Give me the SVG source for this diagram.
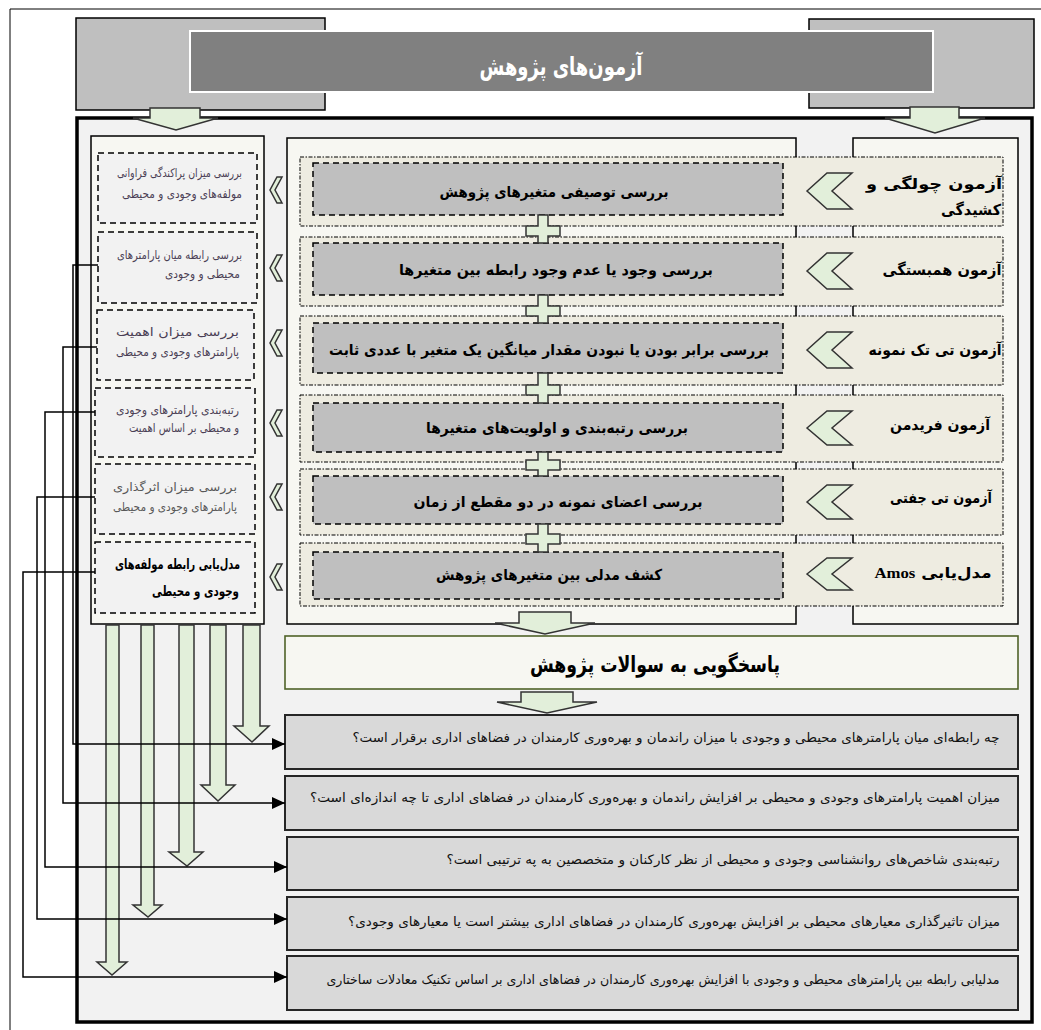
<svg xmlns="http://www.w3.org/2000/svg" width="1041" height="1030" viewBox="0 0 1041 1030">
<defs>
<style>
.hdr{fill:#BFBFBF;stroke:#000;stroke-width:1.5}
.ttl{fill:#808080;stroke:#fff;stroke-width:2}
.cont{fill:#F2F2F2;stroke:#000;stroke-width:3.5}
.col{fill:#F7F7F2;stroke:#000;stroke-width:1.5}
.dbox{fill:#F2F2F2;stroke:#000;stroke-width:1.5;stroke-dasharray:6 4}
.row{fill:#EEECE1;stroke:#000;stroke-width:1;stroke-dasharray:4 1.5 1.5 1.5}
.inner{fill:#BFBFBF;stroke:#000;stroke-width:1.5;stroke-dasharray:6 4}
.ga{fill:#E2EFDA;stroke:#333;stroke-width:1.5}
.q{fill:#D9D9D9;stroke:#262626;stroke-width:2}
.ans{fill:#F7F7F2;stroke:#4F6228;stroke-width:1.6}
.conn{fill:none;stroke:#000;stroke-width:1.5}
text{font-family:"DejaVu Sans",sans-serif;direction:rtl;text-anchor:middle}
.tb{font-weight:bold;font-size:15px;fill:#000}
.ts{font-size:12px;fill:#4B3F55}
.tq{font-size:13px;fill:#111}
</style>
<marker id="ah" markerUnits="userSpaceOnUse" markerWidth="13" markerHeight="12" refX="13" refY="6" orient="auto">
<path d="M0,0 L13,6 L0,12 z" fill="#000"/>
</marker>
</defs>
<rect width="1041" height="1030" fill="#fff"/>
<g id="page">
<line x1="10" y1="9" x2="1041" y2="9" stroke="#000" stroke-width="1"/>
<line x1="10" y1="9" x2="10" y2="1030" stroke="#000" stroke-width="1"/>
</g>
<g id="header">
<rect class="hdr" x="76" y="18" width="249" height="92"/>
<rect class="hdr" x="809" y="19" width="225" height="89"/>
<rect class="ttl" x="190" y="31" width="743" height="61"/>
<text x="561" y="75" font-size="25" font-weight="bold" fill="#fff" textLength="163" lengthAdjust="spacingAndGlyphs">آزمون‌های پژوهش</text>
</g>
<g id="container">
<rect class="cont" x="77" y="118" width="955" height="904"/>
</g>
<g id="top-arrows">
<polygon class="ga" points="150,108 200,108 200,118 218,118 176,130 133,118 150,118"/>
<polygon class="ga" points="910,107 959,107 959,118 985,118 935,133 885,118 910,118"/>
</g>
<g id="left-column">
<rect class="col" x="91" y="136" width="173" height="488"/>
</g>
<g id="frames">
<rect class="col" x="287" y="138" width="509" height="486"/>
<rect class="col" x="853" y="138" width="165" height="486"/>
</g>
<g id="test-1">
<rect class="row" x="300" y="157" width="703" height="69"/>
<rect class="inner" x="313" y="163" width="470" height="52"/>
<polygon class="ga" points="807,191 827,173 852,173 832,191 852,209 827,209"/>
<text class="tb" x="554" y="197" textLength="229" lengthAdjust="spacingAndGlyphs">بررسی توصیفی متغیرهای پژوهش</text>
<text class="tb" x="934" y="189" textLength="136" lengthAdjust="spacingAndGlyphs">آزمون چولگی و</text>
<text class="tb" x="971" y="215" textLength="60" lengthAdjust="spacingAndGlyphs">کشیدگی</text>
</g>
<g id="test-2">
<rect class="row" x="300" y="237" width="703" height="69"/>
<rect class="inner" x="313" y="243" width="470" height="52"/>
<polygon class="ga" points="807,271 827,253 852,253 832,271 852,289 827,289"/>
<text class="tb" x="556" y="275" textLength="314" lengthAdjust="spacingAndGlyphs">بررسی وجود یا عدم وجود رابطه بین متغیرها</text>
<text class="tb" x="942" y="275" textLength="119" lengthAdjust="spacingAndGlyphs">آزمون همبستگی</text>
</g>
<g id="test-3">
<rect class="row" x="300" y="316" width="703" height="69"/>
<rect class="inner" x="313" y="323" width="470" height="50"/>
<polygon class="ga" points="807,350 827,332 852,332 832,350 852,368 827,368"/>
<text class="tb" x="549" y="355" textLength="440" lengthAdjust="spacingAndGlyphs">بررسی برابر بودن یا نبودن مقدار میانگین یک متغیر با عددی ثابت</text>
<text class="tb" x="935" y="355" textLength="133" lengthAdjust="spacingAndGlyphs">آزمون تی تک نمونه</text>
</g>
<g id="test-4">
<rect class="row" x="300" y="395" width="703" height="67"/>
<rect class="inner" x="313" y="403" width="470" height="49"/>
<polygon class="ga" points="807,428 827,411 852,411 832,428 852,445 827,445"/>
<text class="tb" x="557" y="433" textLength="262" lengthAdjust="spacingAndGlyphs">بررسی رتبه‌بندی و اولویت‌های متغیرها</text>
<text class="tb" x="940" y="430" textLength="100" lengthAdjust="spacingAndGlyphs">آزمون فریدمن</text>
</g>
<g id="test-5">
<rect class="row" x="300" y="469" width="703" height="66"/>
<rect class="inner" x="313" y="476" width="470" height="48"/>
<polygon class="ga" points="807,502 827,485 852,485 832,502 852,519 827,519"/>
<text class="tb" x="558" y="507" textLength="289" lengthAdjust="spacingAndGlyphs">بررسی اعضای نمونه در دو مقطع از زمان</text>
<text class="tb" x="941" y="503" textLength="102" lengthAdjust="spacingAndGlyphs">آزمون تی جفتی</text>
</g>
<g id="test-6">
<rect class="row" x="300" y="543" width="703" height="63"/>
<rect class="inner" x="313" y="552" width="470" height="47"/>
<polygon class="ga" points="807,574 827,558 852,558 832,574 852,590 827,590"/>
<text class="tb" x="549" y="580" textLength="226" lengthAdjust="spacingAndGlyphs">کشف مدلی بین متغیرهای پژوهش</text>
<text class="tb" x="933" y="578" textLength="117" lengthAdjust="spacingAndGlyphs">مدل‌یابی <tspan font-family="Liberation Serif">Amos</tspan></text>
</g>
<g id="plus-links">
<polygon class="ga" points="538,215 548,215 548,226 560,226 560,236 548,236 548,243 538,243 538,236 526,236 526,226 538,226"/>
<polygon class="ga" points="538,295 548,295 548,306 560,306 560,316 548,316 548,323 538,323 538,316 526,316 526,306 538,306"/>
<polygon class="ga" points="538,373 548,373 548,385 560,385 560,395 548,395 548,403 538,403 538,395 526,395 526,385 538,385"/>
<polygon class="ga" points="538,452 548,452 548,460 560,460 560,470 548,470 548,476 538,476 538,470 526,470 526,460 538,460"/>
<polygon class="ga" points="538,524 548,524 548,534 560,534 560,544 548,544 548,552 538,552 538,544 526,544 526,534 538,534"/>
</g>
<g id="goal-1">
<rect class="dbox" x="98" y="153" width="159" height="70"/>
<text class="ts" x="179.5" y="177" textLength="125" lengthAdjust="spacingAndGlyphs">بررسی میزان پراکندگی فراوانی</text>
<text class="ts" x="182" y="198" textLength="120" lengthAdjust="spacingAndGlyphs">مولفه‌های وجودی و محیطی</text>
<polygon class="ga" points="282,177 277,177 270,190 277,203 282,203 275,190"/>
</g>
<g id="goal-2">
<rect class="dbox" x="98" y="232" width="159" height="71"/>
<text class="ts" x="179.5" y="259" textLength="125" lengthAdjust="spacingAndGlyphs">بررسی رابطه میان پارامترهای</text>
<text class="ts" x="202.5" y="278" textLength="75" lengthAdjust="spacingAndGlyphs">محیطی و وجودی</text>
<polygon class="ga" points="282,255 277,255 270,268 277,281 282,281 275,268"/>
</g>
<g id="goal-3">
<rect class="dbox" x="97" y="310" width="157" height="70"/>
<text class="ts" x="177.5" y="336" textLength="123" lengthAdjust="spacingAndGlyphs">بررسی میزان اهمیت</text>
<text class="ts" x="177.5" y="356" textLength="123" lengthAdjust="spacingAndGlyphs">پارامترهای وجودی و محیطی</text>
<polygon class="ga" points="282,330 277,330 270,343 277,356 282,356 275,343"/>
</g>
<g id="goal-4">
<rect class="dbox" x="95" y="388" width="160" height="69"/>
<text class="ts" x="177.5" y="414" textLength="123" lengthAdjust="spacingAndGlyphs">رتبه‌بندی پارامترهای وجودی</text>
<text class="ts" x="184" y="432" textLength="110" lengthAdjust="spacingAndGlyphs">و محیطی بر اساس اهمیت</text>
<polygon class="ga" points="282,410 277,410 270,423 277,436 282,436 275,423"/>
</g>
<g id="goal-5">
<rect class="dbox" x="95" y="464" width="160" height="70"/>
<text class="ts" x="175" y="491" style="fill:#595959" textLength="124" lengthAdjust="spacingAndGlyphs">بررسی میزان اثرگذاری</text>
<text class="ts" x="175" y="511" style="fill:#595959" textLength="124" lengthAdjust="spacingAndGlyphs">پارامترهای وجودی و محیطی</text>
<polygon class="ga" points="282,484 277,484 270,497 277,510 282,510 275,497"/>
</g>
<g id="goal-6">
<rect class="dbox" x="95" y="542" width="160" height="71"/>
<text x="177.5" y="569" font-size="14" font-weight="bold" fill="#000" textLength="125" lengthAdjust="spacingAndGlyphs">مدل‌یابی رابطه مولفه‌های</text>
<text x="195.5" y="596" font-size="14" font-weight="bold" fill="#000" textLength="87" lengthAdjust="spacingAndGlyphs">وجودی و محیطی</text>
<polygon class="ga" points="282,564 277,564 270,577 277,590 282,590 275,577"/>
</g>
<g id="mid-arrows">
<polygon class="ga" points="519,612 571,612 571,623 595,623 545,634 495,623 519,623"/>
</g>
<g id="answer">
<rect class="ans" x="285" y="636" width="733" height="53"/>
<text x="655" y="672" font-size="22" font-weight="bold" fill="#000" textLength="250" lengthAdjust="spacingAndGlyphs">پاسخگویی به سوالات پژوهش</text>
</g>
<g id="answer-arrow">
<polygon class="ga" points="521,692 573,692 573,702 597,702 547,713 497,702 521,702"/>
</g>
<g id="question-1">
<rect class="q" x="285" y="715" width="733" height="54"/>
<text class="tq" x="676" y="742" textLength="647" lengthAdjust="spacingAndGlyphs">چه رابطه‌ای میان پارامترهای محیطی و وجودی با میزان راندمان و بهره‌وری کارمندان در فضاهای اداری برقرار است؟</text>
</g>
<g id="question-2">
<rect class="q" x="285" y="776" width="733" height="54"/>
<text class="tq" x="655" y="802" textLength="690" lengthAdjust="spacingAndGlyphs">میزان اهمیت پارامترهای وجودی و محیطی بر افزایش راندمان و بهره‌وری کارمندان در فضاهای اداری تا چه اندازه‌ای است؟</text>
</g>
<g id="question-3">
<rect class="q" x="287" y="837" width="731" height="53"/>
<text class="tq" x="723" y="864" textLength="553" lengthAdjust="spacingAndGlyphs">رتبه‌بندی شاخص‌های روانشناسی وجودی و محیطی از نظر کارکنان و متخصصین به په ترتیبی است؟</text>
</g>
<g id="question-4">
<rect class="q" x="287" y="897" width="731" height="53"/>
<text class="tq" x="674" y="926" textLength="652" lengthAdjust="spacingAndGlyphs">میزان تاثیرگذاری معیارهای محیطی بر افزایش بهره‌وری کارمندان در فضاهای اداری بیشتر است یا معیارهای وجودی؟</text>
</g>
<g id="question-5">
<rect class="q" x="287" y="956" width="731" height="54"/>
<text class="tq" x="663" y="984" textLength="673" lengthAdjust="spacingAndGlyphs">مدلیابی رابطه بین پارامترهای محیطی و وجودی با افزایش بهره‌وری کارمندان در فضاهای اداری بر اساس تکنیک معادلات ساختاری</text>
</g>
<g id="down-arrows">
<polygon class="ga" points="106,625 119,625 119,962 127,962 112,975 97,962 106,962"/>
<polygon class="ga" points="141,625 154,625 154,905 162,905 148,917 133,905 141,905"/>
<polygon class="ga" points="179,625 194,625 194,852 203,852 187,866 169,852 179,852"/>
<polygon class="ga" points="210,625 226,625 226,785 235,785 218,801 201,785 210,785"/>
<polygon class="ga" points="243,625 260,625 260,726 269,726 252,742 234,726 243,726"/>
</g>
<g id="connectors">
<path class="conn" d="M98,265 H73 V744 H285" marker-end="url(#ah)"/>
<path class="conn" d="M97,347 H63 V803 H285" marker-end="url(#ah)"/>
<path class="conn" d="M95,412 H45 V867 H287" marker-end="url(#ah)"/>
<path class="conn" d="M95,497 H37 V919 H287" marker-end="url(#ah)"/>
<path class="conn" d="M95,572 H23 V977 H287" marker-end="url(#ah)"/>
</g>
</svg>
